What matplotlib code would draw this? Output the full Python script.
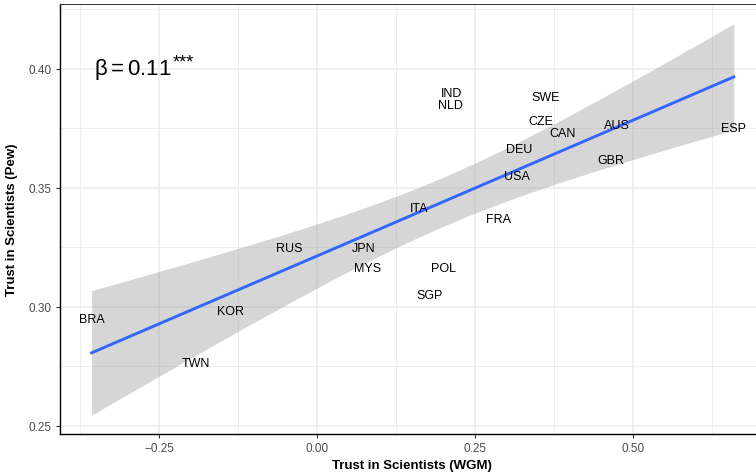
import matplotlib
matplotlib.use("Agg")
import matplotlib.pyplot as plt
import numpy as np

countries = ["IND", "NLD", "SWE", "CZE", "CAN", "AUS", "ESP", "DEU", "GBR", "USA",
             "ITA", "FRA", "RUS", "JPN", "MYS", "POL", "SGP", "BRA", "KOR", "TWN"]
wgm = [0.213, 0.211, 0.362, 0.354, 0.388, 0.474, 0.659, 0.320, 0.464, 0.316,
       0.161, 0.287, -0.044, 0.074, 0.079, 0.199, 0.177, -0.357, -0.138, -0.192]
pew = [0.3900, 0.3849, 0.3884, 0.3783, 0.3732, 0.3766, 0.3750, 0.3665, 0.3619, 0.3551,
       0.3417, 0.3368, 0.3249, 0.3249, 0.3163, 0.3162, 0.3050, 0.2949, 0.2984, 0.2764]

x_ticks = [-0.25, 0.00, 0.25, 0.50]
y_ticks = [0.25, 0.30, 0.35, 0.40]
beta_label = r"$\beta = 0.11$"
stars = "***"

plt.rcParams['font.family'] = ['Liberation Sans', 'DejaVu Sans']
plt.rcParams['mathtext.fontset'] = 'custom'
plt.rcParams['mathtext.rm'] = 'Liberation Sans'
plt.rcParams['mathtext.it'] = 'Liberation Sans'

x = np.array(wgm)
y = np.array(pew)
n = len(x)
slope, intercept = np.polyfit(x, y, 1)
resid = y - (slope * x + intercept)
s = np.sqrt(np.sum(resid ** 2) / (n - 2))
sxx = np.sum((x - x.mean()) ** 2)
t_crit = 2.100922  # t(0.975, df=18)
xs = np.linspace(x.min(), x.max(), 80)
fit = slope * xs + intercept
se = s * np.sqrt(1 / n + (xs - x.mean()) ** 2 / sxx)

fig = plt.figure(figsize=(7.56, 4.77), dpi=100)
ax = fig.add_axes([60 / 756, 42 / 477, 706 / 756, 430 / 477])

ax.fill_between(xs, fit - t_crit * se, fit + t_crit * se, color="#999999", alpha=0.4,
                linewidth=0, zorder=2)
ax.plot(xs, fit, color="#3366FF", linewidth=2.1, zorder=3)

for c, xi, yi in zip(countries, wgm, pew):
    ax.text(xi, yi, c, ha="center", va="center", fontsize=9, color="black", zorder=4)

bt = ax.text(-0.353, 0.4, beta_label, ha="left", va="center", fontsize=16)
ax.annotate(stars, xy=(1, 1), xycoords=bt, xytext=(0.5, 2), textcoords="offset points",
            ha="left", va="top", fontsize=13)

ax.set_xlim(-0.407, 0.710)
ax.set_ylim(0.2465, 0.4273)
ax.set_xticks(x_ticks)
ax.set_xticklabels(["\u22120.25", "0.00", "0.25", "0.50"])
ax.set_yticks(y_ticks)
ax.set_yticklabels([f"{v:.2f}" for v in y_ticks])
ax.set_xticks([-0.375, -0.125, 0.125, 0.375, 0.625], minor=True)
ax.set_yticks([0.275, 0.325, 0.375, 0.425], minor=True)
ax.grid(which="major", color="#EBEBEB", linewidth=1.1, zorder=0)
ax.grid(which="minor", color="#EBEBEB", linewidth=0.6, zorder=0)
ax.set_axisbelow(True)
ax.tick_params(which="minor", length=0)
ax.tick_params(which="major", length=3, color="#333333", width=0.8,
               labelsize=8.5, labelcolor="#4D4D4D", pad=3)

for side in ["left", "bottom"]:
    ax.spines[side].set_color("black")
    ax.spines[side].set_linewidth(1.0)
ax.spines["top"].set_color("#333333")
ax.spines["top"].set_linewidth(0.7)
ax.spines["right"].set_visible(False)

ax.set_xlabel("Trust in Scientists (WGM)", fontsize=9.5, fontweight="bold")
ax.set_ylabel("Trust in Scientists (Pew)", fontsize=9.5, fontweight="bold")
ax.xaxis.set_label_coords((412 - 60) / 706, -25 / 430)
ax.yaxis.set_label_coords(-42 / 706, (477 - 220 - 42) / 430)

fig.savefig("out.png", dpi=100)
